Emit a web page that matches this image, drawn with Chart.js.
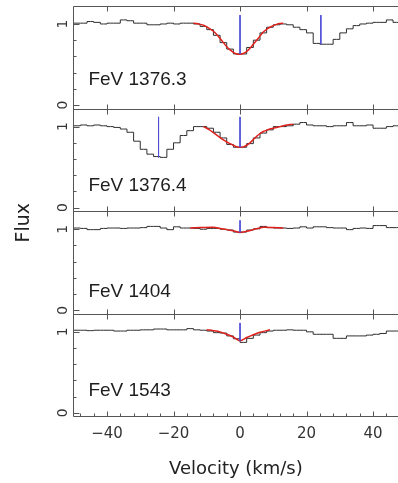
<!DOCTYPE html>
<html><head><meta charset="utf-8">
<script src="https://cdn.jsdelivr.net/npm/chart.js@4.4.1/dist/chart.umd.min.js"></script>
<style>html,body{margin:0;padding:0;background:#fff;}canvas{display:block;}</style>
</head><body>
<canvas id="c" width="398" height="483"></canvas>
<script>
// ---- data ----
const velocity = [-51,-49,-47,-45,-43,-41,-39,-37,-35,-33,-31,-29,-27,-25,-23,-21,-19,-17,-15,-13,-11,-9,-7,-5,-3,-1,1,3,5,7,9,11,13,15,17,19,21,23,25,27,29,31,33,35,37,39,41,43,45,47,49];
const panelNames = ['FeV 1376.3','FeV 1376.4','FeV 1404','FeV 1543'];
const flux1376_3 = [1.01,1.01,1.01,1.03,1.02,1.00,1.01,1.01,1.05,1.04,
  1.01,1.01,0.99,0.99,1.00,1.01,1.00,1.01,1.01,1.00,
  0.97,0.93,0.86,0.77,0.69,0.63,0.63,0.71,0.80,0.89,
  0.96,0.99,1.00,0.99,0.96,0.93,0.89,0.76,0.75,0.75,
  0.81,0.89,0.94,0.98,1.00,1.01,1.02,1.02,1.05,1.02,1.02];
const flux1376_4 = [1.01,1.01,1.02,1.01,1.02,1.01,1.00,0.99,0.97,0.93,
  0.82,0.72,0.66,0.63,0.62,0.72,0.80,0.89,0.95,1.00,
  1.00,0.98,0.93,0.86,0.78,0.745,0.745,0.79,0.86,0.92,
  0.96,1.00,1.00,1.01,1.03,1.05,1.02,1.01,1.01,1.00,
  1.01,1.01,1.05,1.01,1.01,1.02,0.98,0.98,1.00,1.01,1.01];
const flux1404 = [1.01,1.015,1.01,0.995,0.995,1.01,1.015,1.015,1.01,1.015,
  1.015,1.02,1.035,1.035,1.015,0.995,1.03,1.015,1.015,1.01,
  1.0,1.01,1.01,1.0,0.99,0.965,0.965,0.99,1.005,1.035,
  1.02,1.015,1.015,1.01,1.015,1.03,1.015,1.03,1.03,1.02,
  1.015,1.015,0.995,1.01,1.015,1.01,1.045,1.045,1.02,1.02,1.02];
const flux1543 = [1.02,1.02,1.02,1.015,1.02,1.02,1.02,1.01,1.01,1.02,
  1.02,1.025,1.025,1.035,1.035,1.025,1.025,1.025,1.04,1.025,
  1.02,1.01,0.99,0.985,0.95,0.915,0.87,0.92,0.96,0.99,
  1.01,1.02,1.02,1.025,1.02,1.02,1.0,0.97,0.97,0.97,
  0.92,0.92,0.95,0.95,0.95,0.96,0.97,0.98,1.01,1.01,1.01];

const fitVelocity1 = [-14,-13,-12,-11,-10,-9,-8,-7,-6,-5,-4,-3,-2,-1,0,1,2,3,4,5,6,7,8,9,10,11,12,13];
const fitFlux1 = [1.01,1.005,0.995,0.985,0.965,0.94,0.91,0.87,0.82,0.77,0.72,0.68,0.65,0.63,0.625,0.635,0.66,0.70,0.75,0.80,0.85,0.90,0.935,0.96,0.98,0.995,1.005,1.01];
const fitVelocity2 = [-11,-10,-9,-8,-7,-6,-5,-4,-3,-2,-1,0,1,2,3,4,5,6,7,8,9,10,11,12,13,14,15,16];
const fitFlux2 = [1.0,0.98,0.955,0.925,0.895,0.865,0.835,0.81,0.79,0.77,0.752,0.745,0.75,0.77,0.80,0.84,0.88,0.915,0.94,0.955,0.97,0.98,0.99,1.0,1.01,1.02,1.025,1.03];
const fitVelocity3 = [-15,-12,-8,-6,-4,-2,0,2,4,7,10,13];
const fitFlux3 = [1.015,1.02,1.025,1.01,0.995,0.98,0.96,0.975,0.995,1.025,1.02,1.015];
const fitVelocity4 = [-10,-8,-6,-4,-2,0,2,4,6,8,9];
const fitFlux4 = [1.025,1.015,1.0,0.97,0.935,0.89,0.93,0.965,0.995,1.015,1.025];

const componentVelocity = [[0, 24.3], [0, -24.5], [0], [0]];
const componentTop = [[1.11, 1.11], [1.12, 1.12], [1.11], [1.11]];
const componentBottom = [[0.63, 0.75], [0.745, 0.62], [0.96], [0.89]];

const xTickValues = [-40, -20, 0, 20, 40];
const xTickLabels = ['\u221240', '\u221220', '0', '20', '40'];
const yTickValues = [0, 1];
const yTickLabels = ['0', '1'];
const xTitle = 'Velocity (km/s)';
const yTitle = 'Flux';

// ---- build ----
const panelIds = ['p1', 'p2', 'p3', 'p4'];
const fluxes = [flux1376_3, flux1376_4, flux1404, flux1543];
const fitsV = [fitVelocity1, fitVelocity2, fitVelocity3, fitVelocity4];
const fitsF = [fitFlux1, fitFlux2, fitFlux3, fitFlux4];

const datasets = [];
panelIds.forEach((id, i) => {
  datasets.push({label: panelNames[i], yAxisID: id, xAxisID: 'x', order: 3,
    data: velocity.map((v, k) => ({x: v, y: fluxes[i][k]})),
    stepped: 'middle', borderColor: '#2e2e2e', borderWidth: 1, pointRadius: 0, fill: false});
  datasets.push({label: panelNames[i] + ' fit', yAxisID: id, xAxisID: 'x', order: 2,
    data: fitsV[i].map((v, k) => ({x: v, y: fitsF[i][k]})),
    borderColor: '#e0201c', borderWidth: 1.5, pointRadius: 0, fill: false, tension: 0.3});
  componentVelocity[i].forEach((v, k) => {
    datasets.push({label: panelNames[i] + ' component', yAxisID: id, xAxisID: 'x', order: 1,
      data: [{x: v, y: componentTop[i][k]}, {x: v, y: componentBottom[i][k]}],
      borderColor: '#4f4fd8', borderWidth: 1, pointRadius: 0, fill: false});
  });
});

const FONT_T = 'DejaVu Sans';
function yScale(id) {
  return {
    type: 'linear', position: 'left', stack: 'flux', stackWeight: 1,
    min: -0.045, max: 1.222,
    grid: {display: false, drawTicks: false}, border: {display: false},
    afterBuildTicks: s => { s.ticks = yTickValues.map(v => ({value: v})); },
    ticks: {autoSkip: false, minRotation: 90, maxRotation: 90, crossAlign: 'center', padding: 6,
      color: '#333', font: {family: FONT_T, size: 14},
      callback: v => yTickLabels[yTickValues.indexOf(v)]},
    afterFit: s => { s.width = 61.75; s.paddingTop = 0; s.paddingBottom = 0; }
  };
}

const panelLabelPos = {x: -45.6, y: [0.31, 0.27, 0.225, 0.27]};

const panelFrames = {
  id: 'panelFrames',
  afterDatasetsDraw(chart) {
    const ctx = chart.ctx, xs = chart.scales.x;
    const L = Math.round(xs.left) - 0.5, R = xs.right + 2;
    ctx.save();
    ctx.strokeStyle = '#555'; ctx.lineWidth = 1;
    const line = (x1, y1, x2, y2) => { ctx.beginPath(); ctx.moveTo(x1, y1); ctx.lineTo(x2, y2); ctx.stroke(); };
    const bounds = [];
    panelIds.forEach(id => { const s = chart.scales[id]; bounds.push(Math.round(s.top) + 0.5); });
    bounds.push(Math.round(chart.scales[panelIds[3]].bottom) - 0.5);
    line(L, bounds[0], L, bounds[4]);
    bounds.forEach((b, bi) => {
      line(L, b, R, b);
      xTickValues.forEach(v => {
        const px = Math.round(xs.getPixelForValue(v)) + 0.5;
        line(px, bi === 0 ? b : b - 5, px, bi === 4 ? b : b + 5);
      });
    });
    for (let v = -48; v <= 46; v += 4) {
      if (xTickValues.includes(v)) continue;
      const px = Math.round(xs.getPixelForValue(v)) + 0.5;
      line(px, bounds[4], px, bounds[4] - 3);
    }
    panelIds.forEach((id, i) => {
      const ys = chart.scales[id];
      [0, 0.2, 0.4, 0.6, 0.8, 1].forEach(v => {
        const py = Math.round(ys.getPixelForValue(v)) + 0.5;
        line(L, py, L + (v === 0 || v === 1 ? 6 : 3), py);
      });
      ctx.fillStyle = '#1e1e1e';
      ctx.font = '19px "Liberation Sans", Arial, sans-serif';
      ctx.textBaseline = 'middle'; ctx.textAlign = 'left';
      ctx.fillText(panelNames[i], xs.getPixelForValue(panelLabelPos.x), ys.getPixelForValue(panelLabelPos.y[i]));
    });
    // y-axis title
    const ys2 = chart.scales[panelIds[1]];
    ctx.save();
    ctx.translate(24, ys2.bottom + 11.5);
    ctx.rotate(-Math.PI / 2);
    ctx.font = '19px "DejaVu Sans", sans-serif';
    ctx.fillStyle = '#222';
    ctx.textAlign = 'center'; ctx.textBaseline = 'middle';
    ctx.fillText(yTitle, 0, 0);
    ctx.restore();
    ctx.restore();
  }
};

const scales = {
  x: {type: 'linear', position: 'bottom', min: -50, max: 47.5,
    grid: {display: false, drawTicks: false}, border: {display: false},
    afterBuildTicks: s => { s.ticks = xTickValues.map(v => ({value: v})); },
    ticks: {autoSkip: false, maxRotation: 0, padding: 9, color: '#333', font: {family: FONT_T, size: 15},
      callback: v => xTickLabels[xTickValues.indexOf(v)]},
    title: {display: true, text: xTitle, color: '#222', font: {family: FONT_T, size: 18}, padding: {top: 0, bottom: 3}},
    afterFit: s => { s.height = 66.5; s.paddingLeft = 0; s.paddingRight = 0; }
  },
  p4: yScale('p4'),
  p3: yScale('p3'),
  p2: yScale('p2'),
  p1: yScale('p1')
};

new Chart(document.getElementById('c'), {
  type: 'line',
  data: {datasets},
  options: {
    responsive: false, animation: false, devicePixelRatio: 1,
    parsing: false,
    layout: {padding: {left: 12, right: 0, top: 6, bottom: 0}},
    plugins: {legend: {display: false}, tooltip: {enabled: false}},
    scales
  },
  plugins: [panelFrames]
});
</script>
</body></html>
